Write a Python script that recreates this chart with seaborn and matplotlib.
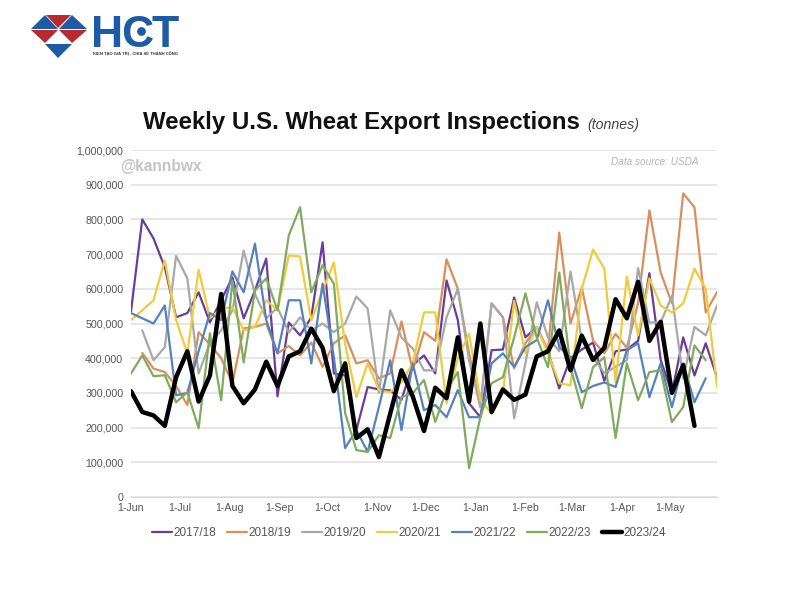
import numpy as np
import pandas as pd
import matplotlib
matplotlib.use("Agg")
import matplotlib.pyplot as plt
import matplotlib.dates as mdates
import seaborn as sns

nan = np.nan

# Weekly inspections, in thousand tonnes
s2017 = [535, 800, 745, 662, 518, 530, 590, 503, 567, 633, 515, 595, 687, 290, 503, 466, 518, 734,
         356, 350, 193, 317, 310, 307, 280, 380, 408, 356, 624, 510, 270, 230, 423, 425, 575, 460,
         490, 420, 313, 400, 425, 445, 335, 420, 425, 450, 645, 395, 300, 460, 350, 443, 345]
s2018 = [nan, 415, 370, 360, 320, 265, 475, 440, 400, 328, 486, 490, 500, 414, 435, 408, 445, 375,
         443, 466, 385, 394, 342, 356, 506, 365, 475, 450, 685, 600, 414, 260, 558, 518, 371, 443,
         490, 423, 762, 500, 604, 451, 414, 470, 430, 560, 826, 647, 558, 875, 835, 532, 590]
s2019 = [nan, 480, 394, 432, 695, 630, 356, 443, 480, 538, 710, 585, 515, 546, 474, 518, 480, 500,
         475, 500, 578, 543, 300, 538, 460, 428, 365, 365, 518, 600, 394, 260, 558, 518, 227, 385,
         561, 460, 420, 650, 451, 403, 357, 375, 394, 660, 503, 503, 580, 342, 490, 466, 552]
s2020 = [510, 538, 567, 682, 510, 414, 655, 515, 543, 547, 480, 490, 567, 538, 696, 693, 509, 595,
         676, 440, 288, 385, 308, 302, 331, 385, 532, 532, 270, 400, 470, 280, 240, 300, 565, 414,
         490, 414, 328, 322, 600, 713, 658, 330, 635, 466, 630, 552, 532, 558, 658, 600, 317]
s2021 = [530, 515, 500, 552, 293, 300, 420, 530, 510, 650, 590, 730, 510, 414, 567, 567, 385, 615,
         403, 141, 193, 130, 260, 394, 193, 385, 250, 265, 230, 308, 230, 230, 385, 414, 375, 432,
         452, 567, 432, 403, 302, 320, 330, 317, 423, 443, 288, 385, 259, 385, 273, 342]
s2022 = [356, 408, 348, 351, 273, 302, 198, 472, 279, 624, 388, 595, 630, 538, 754, 835, 590, 668,
         615, 242, 135, 130, 178, 170, 288, 299, 337, 216, 308, 360, 83, 230, 328, 345, 460, 587,
         460, 374, 647, 374, 256, 374, 403, 170, 385, 279, 360, 365, 216, 259, 437, 394]
s2023 = [305, 245, 235, 205, 345, 420, 275, 350, 585, 320, 270, 310, 390, 320, 405, 420, 485, 430,
         305, 385, 170, 195, 115, 240, 365, 290, 190, 315, 285, 460, 275, 500, 245, 310, 280, 295,
         405, 420, 480, 365, 465, 395, 430, 570, 515, 620, 450, 505, 300, 380, 205]

seasons = ['2017/18', '2018/19', '2019/20', '2020/21', '2021/22', '2022/23', '2023/24']
series = [s2017, s2018, s2019, s2020, s2021, s2022, s2023]
colors = ['#6a3d96', '#d98f5c', '#a8a8a8', '#f0cb3c', '#5482ba', '#7fab5e', '#000000']
widths = [1.6, 1.6, 1.6, 1.6, 1.6, 1.6, 3.2]

# Make a long table for seaborn, weeks start on 1-Jun
rows = []
for name, values in zip(seasons, series):
    dates = pd.date_range('2023-06-01', periods=len(values), freq='7D')
    rows.append(pd.DataFrame({'date': dates, 'tonnes': np.array(values) * 1000, 'season': name}))
df = pd.concat(rows, ignore_index=True)

sns.set_style('white')
plt.rcParams['font.family'] = ['Liberation Sans', 'DejaVu Sans']

fig = plt.figure(figsize=(8, 6), dpi=100)
ax = fig.add_axes([131 / 800, 1 - 497 / 600, 586 / 800, 347 / 600])

sns.lineplot(data=df, x='date', y='tonnes', hue='season', size='season', hue_order=seasons,
             size_order=seasons, palette=dict(zip(seasons, colors)), sizes=dict(zip(seasons, widths)),
             estimator=None, ax=ax)

ax.set_xlim(pd.Timestamp('2023-06-01'), pd.Timestamp('2024-05-30'))
ax.set_ylim(0, 1000000)
ax.set_yticks(range(0, 1000001, 100000))
ax.yaxis.set_major_formatter(lambda v, p: f'{int(v):,}')
ax.xaxis.set_major_locator(mdates.MonthLocator())
ax.xaxis.set_major_formatter(mdates.DateFormatter('%-d-%b'))
ax.set_xlabel('')
ax.set_ylabel('')
ax.grid(axis='y', color='#e2e2e2', lw=1.2)
ax.set_axisbelow(True)
sns.despine(ax=ax, left=True)
ax.spines['bottom'].set_color('#dadada')
ax.tick_params(axis='x', length=2, color='#dadada', labelsize=7.7, labelcolor='#555555', pad=2.5)
ax.tick_params(axis='y', length=0, labelsize=7.7, labelcolor='#555555', pad=5.5)

sns.move_legend(ax, 'upper center', bbox_to_anchor=(0.474, -0.056), ncol=7, frameon=False, title=None,
                fontsize=8.5, handlelength=1.7, columnspacing=0.95, handletextpad=0.1, labelcolor='#555555')

# Overlay in pixel coordinates for headings and the logo
over = fig.add_axes([0, 0, 1, 1], facecolor='none')
over.set_xlim(0, 800)
over.set_ylim(600, 0)
over.axis('off')

over.text(143, 123, 'Weekly U.S. Wheat Export Inspections', fontsize=17.3, fontweight='bold',
          color='#111111', va='center')
over.text(587, 125, '(tonnes)', fontsize=10.2, style='italic', color='#444444', va='center')
over.text(120, 167, '@kannbwx', fontsize=11.2, fontweight='bold', color='#c4c4c4', va='center')
over.text(611, 162, 'Data source: USDA', fontsize=7.2, style='italic', color='#b5b5b5', va='center')

logo_blue = '#1d5ba6'
logo_red = '#b72a2f'
logo_parts = [([(31, 29), (45, 15), (58, 29)], logo_blue),
              ([(46, 15), (71, 15), (58, 28)], logo_red),
              ([(59, 29), (72, 15), (87, 29)], logo_blue),
              ([(31, 30), (58, 30), (45, 43)], logo_red),
              ([(59, 30), (87, 30), (72, 43)], logo_red),
              ([(45, 44), (72, 44), (58, 58)], logo_blue)]
for points, c in logo_parts:
    over.fill(*zip(*points), color=c, lw=0)
for letter, x in zip('HCT', [91, 121, 151]):
    over.text(x, 47, letter, fontsize=32, fontweight='bold', color=logo_blue, va='baseline')
over.scatter([141], [31], s=28, color=logo_blue)
over.text(93, 54, 'KIẾN TẠO GIÁ TRỊ - CHIA SẺ THÀNH CÔNG', fontsize=2.95, fontweight='bold',
          color='#333333', va='center')

fig.savefig('out.png', dpi=100)
